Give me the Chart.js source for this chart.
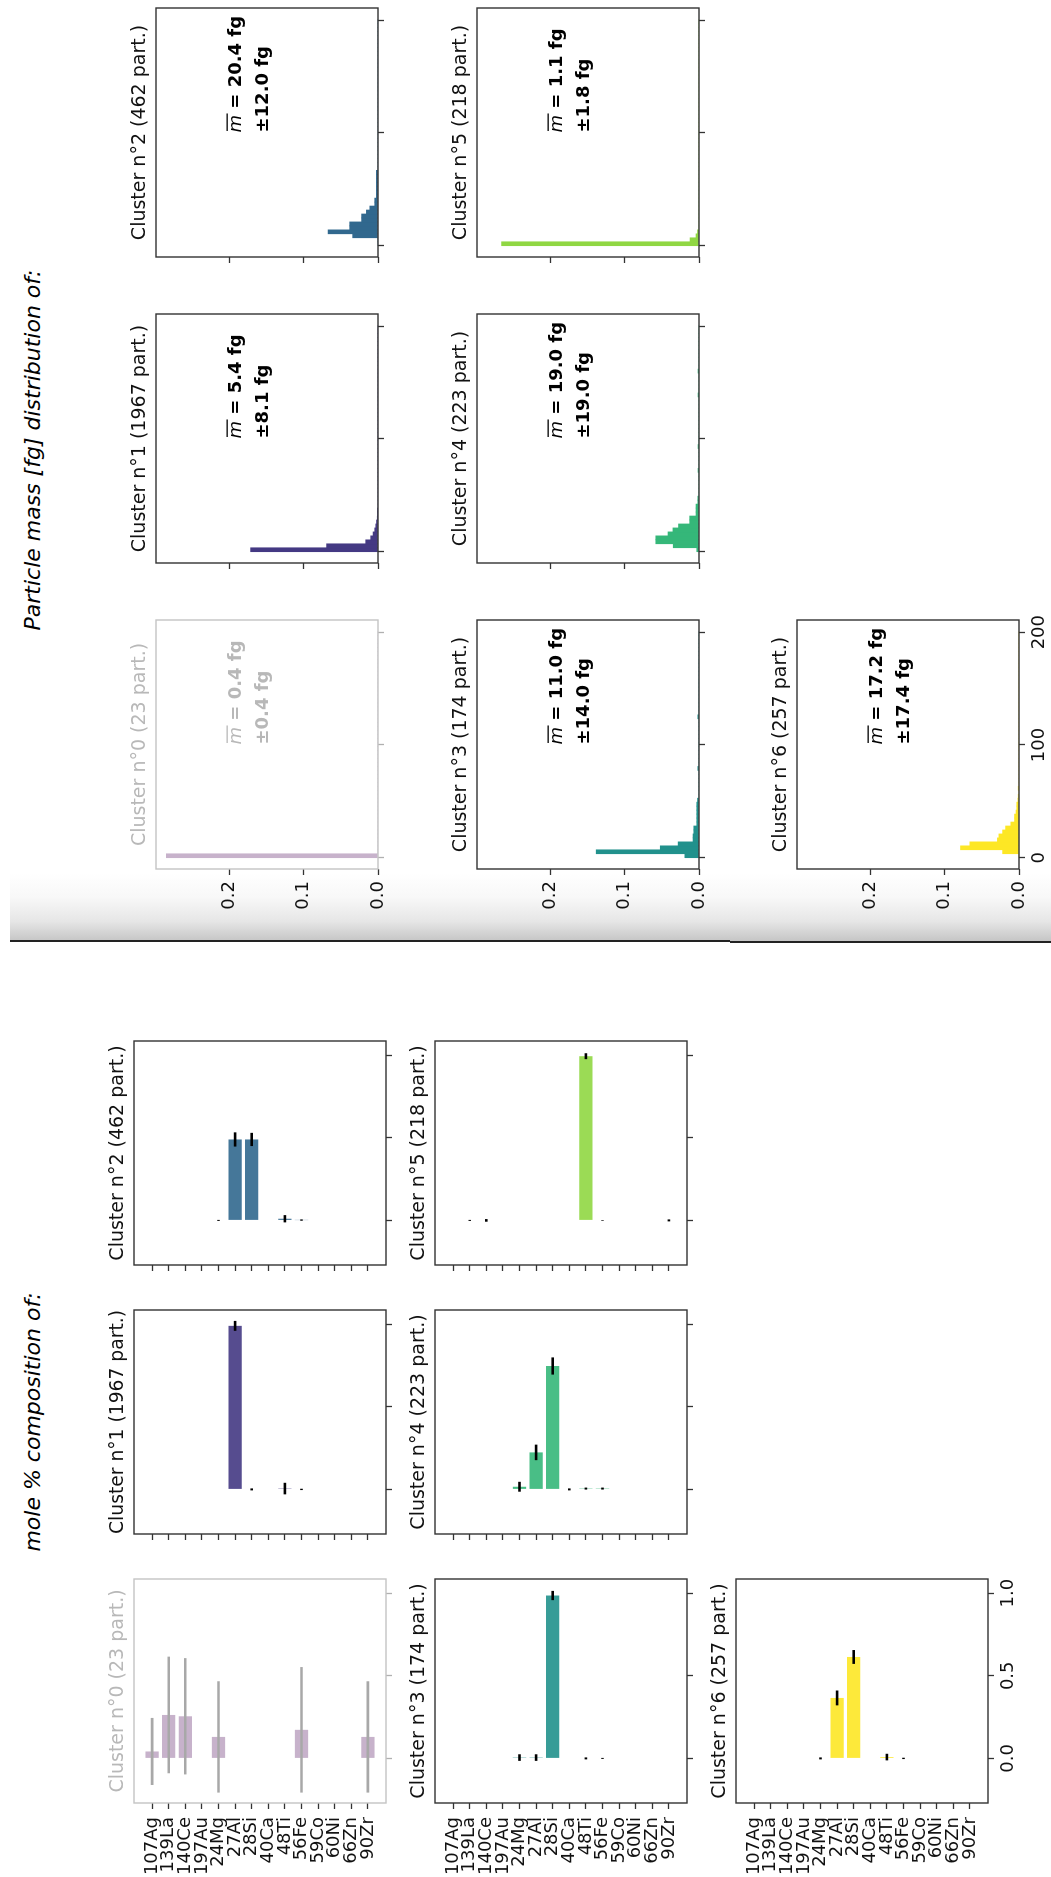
<!DOCTYPE html>
<html>
<head>
<meta charset="utf-8">
<script src="https://cdn.jsdelivr.net/npm/chart.js@4.4.1/dist/chart.umd.min.js"></script>
<style>
html, body { margin: 0; padding: 0; background: #fff; }
body { width: 1051px; height: 1877px; overflow: hidden; position: relative; }
#fig {
    position: absolute; left: 0; top: 0;
    width: 1877px; height: 1051px;
    transform-origin: 0 0;
    transform: translate(0, 1877px) rotate(-90deg);
    font-family: "DejaVu Sans", sans-serif;
}
.suptitle {
    position: absolute; top: 22px;
    font-style: italic; font-size: 22px; line-height: 22px;
    white-space: nowrap; transform: translateX(-50%);
}
#shade { position: absolute; left: 935px; top: 10px; width: 69px; height: 1041px;
    background: linear-gradient(to right, #c4c4c4, #e6e6e6 30%, #f8f8f8 65%, #fff); }
#shadeLine { position: absolute; left: 935px; top: 10px; width: 2px; height: 720px; background: #222; }
#shadeLine2 { position: absolute; left: 933.5px; top: 730px; width: 2px; height: 321px; background: #222; }
</style>
</head>
<body>
<div id="fig">
    <div id="shade"></div>
    <div id="shadeLine"></div>
    <div id="shadeLine2"></div>
    <div class="suptitle" style="left:455px;">mole % composition of:</div>
    <div class="suptitle" style="left:1427px;">Particle mass [fg] distribution of:</div>
</div>

<script>

/* ====================================
   DATA
==================================== */

const elements = ["107Ag", "139La", "140Ce", "197Au", "24Mg", "27Al", "28Si",
                  "40Ca", "48Ti", "56Fe", "59Co", "60Ni", "66Zn", "90Zr"];

const particleCounts = [23, 1967, 462, 174, 223, 218, 257];

const clusterColors = ["#440154", "#443983", "#31688e", "#21918c",
                       "#35b779", "#90d743", "#fde725"];

// mole fraction per element, and its error bar half length
const moleFrac0 = [0.042, 0.263, 0.255, 0, 0.130, 0, 0, 0, 0, 0.173, 0, 0, 0, 0.130];
const moleErr0  = [0.203, 0.353, 0.352, 0, 0.337, 0, 0, 0, 0, 0.380, 0, 0, 0, 0.337];

const moleFrac1 = [0, 0, 0, 0, 0, 0.990, 0, 0, 0.005, 0, 0, 0, 0, 0];
const moleErr1  = [0, 0, 0, 0, 0, 0.030, 0.006, 0, 0.035, 0.004, 0, 0, 0, 0];

const moleFrac2 = [0, 0, 0, 0, 0, 0.490, 0.490, 0, 0.010, 0.002, 0, 0, 0, 0];
const moleErr2  = [0, 0, 0, 0, 0.003, 0.043, 0.040, 0, 0.022, 0.004, 0, 0, 0, 0];

const moleFrac3 = [0, 0, 0, 0, 0.005, 0.005, 0.986, 0, 0, 0, 0, 0, 0, 0];
const moleErr3  = [0, 0, 0, 0, 0.020, 0.020, 0.028, 0, 0.006, 0.003, 0, 0, 0, 0];

const moleFrac4 = [0, 0, 0, 0, 0.016, 0.224, 0.747, 0, 0.005, 0.005, 0, 0, 0, 0];
const moleErr4  = [0, 0, 0, 0, 0.030, 0.047, 0.052, 0.006, 0.006, 0.006, 0, 0, 0, 0];

const moleFrac5 = [0, 0, 0, 0, 0, 0, 0, 0, 0.994, 0, 0, 0, 0, 0];
const moleErr5  = [0, 0.003, 0.008, 0, 0, 0, 0, 0, 0.018, 0.002, 0, 0, 0, 0.006];

const moleFrac6 = [0, 0, 0, 0, 0, 0.366, 0.614, 0, 0.008, 0, 0, 0, 0, 0];
const moleErr6  = [0, 0, 0, 0, 0.006, 0.045, 0.042, 0, 0.020, 0.004, 0, 0, 0, 0];

const moleTicks = [0, 0.5, 1.0];

// particle mass histograms (density, bins of massBinWidth fg starting at 0)
const massBinWidth = 3.52;
const massBinCount = 57;

const massDensity0 = [0.284];
const massDensity1 = [0.171, 0.069, 0.0165, 0.0098, 0.0066, 0.0044, 0.003, 0.002, 0.001,
                      0.0005, 0.0005];
const massDensity2 = [0, 0, 0.034, 0.067, 0.038, 0.038, 0.022, 0.022, 0.0156, 0.011,
                      0.0044, 0.0044, 0.0022, 0.0022, 0.0022, 0.0022, 0.0022, 0.0022, 0.0022];
const massDensity3 = [0.019, 0.138, 0.052, 0.028, 0.008, 0.008, 0.007, 0.007, 0.003, 0.003,
                      0.003, 0.003, 0.003, 0.003, 0.002, 0, 0, 0, 0, 0, 0, 0, 0.0016,
                      0, 0, 0, 0, 0, 0, 0, 0, 0, 0, 0, 0, 0.0016];
const massDensity4 = [0.003, 0.0346, 0.058, 0.058, 0.0416, 0.035, 0.0275, 0.0125, 0.0125,
                      0.004, 0.004, 0.004, 0.0016, 0.0016, 0, 0, 0, 0, 0, 0, 0.0013,
                      0, 0, 0, 0, 0, 0.0013, 0, 0, 0, 0, 0, 0, 0, 0, 0, 0, 0, 0, 0.0013,
                      0, 0, 0, 0, 0, 0.0013];
const massDensity5 = [0.265, 0.012, 0.004, 0.002];
const massDensity6 = [0, 0.022, 0.0785, 0.066, 0.029, 0.027, 0.022, 0.018, 0.011, 0.006,
                      0.006, 0.004, 0.003, 0.003, 0.0015, 0.0011, 0, 0.0011];

const meanMass = [0.4, 5.4, 20.4, 11.0, 19.0, 1.1, 17.2];
const stdMass  = [0.4, 8.1, 12.0, 14.0, 19.0, 1.8, 17.4];

const massTicks = [0, 100, 200];
const densityTicks = [0, 0.1, 0.2];

/* ====================================
   LAYOUT (unrotated figure coords)
==================================== */

const FONT = "DejaVu Sans";

const compCols = [73.8, 343.3, 612.3];
const compRows = [134, 434.5, 735.5];
const compW = 224, compH = 251.5;

const massCols = [1008, 1314.2, 1620.4];
const massRows = [156, 476.7, 797.3];
const massW = 248.5, massH = 222.3;

const PAD_L = 80, PAD_T = 50, PAD_R = 24, PAD_B = 45;
const TITLE_PAD = 5;
const TITLE_H = 19 * 1.2 + TITLE_PAD;

const moleFracs = [moleFrac0, moleFrac1, moleFrac2, moleFrac3, moleFrac4, moleFrac5, moleFrac6];
const moleErrs  = [moleErr0, moleErr1, moleErr2, moleErr3, moleErr4, moleErr5, moleErr6];
const massDensities = [massDensity0, massDensity1, massDensity2, massDensity3,
                       massDensity4, massDensity5, massDensity6];

/* ====================================
   PLUGINS
==================================== */

const framePlugin = {
    id: "frame",
    afterDraw(chart, args, opts) {
        const a = chart.chartArea;
        const ctx = chart.ctx;
        ctx.save();
        ctx.strokeStyle = opts.color || "#333";
        ctx.lineWidth = 1.4;
        ctx.strokeRect(a.left, a.top, a.width, a.height);
        ctx.restore();
    }
};

const errorBarPlugin = {
    id: "errorBars",
    afterDatasetsDraw(chart, args, opts) {
        if (!opts.values) return;
        const xs = chart.scales.x;
        const ys = chart.scales.y;
        const ctx = chart.ctx;
        ctx.save();
        ctx.strokeStyle = opts.color;
        ctx.lineWidth = 2.6;
        opts.values.forEach((v, i) => {
            const e = opts.errors[i];
            if (!e) return;
            const y = ys.getPixelForValue(i);
            ctx.beginPath();
            ctx.moveTo(xs.getPixelForValue(v - e), y);
            ctx.lineTo(xs.getPixelForValue(v + e), y);
            ctx.stroke();
        });
        ctx.restore();
    }
};

const massNotePlugin = {
    id: "massNote",
    afterDraw(chart, args, opts) {
        if (opts.mean === undefined) return;
        const a = chart.chartArea;
        const ctx = chart.ctx;
        const x = a.left + a.width * 0.5;
        const y1 = a.top + 85;
        ctx.save();
        ctx.fillStyle = opts.color;
        ctx.textAlign = "left";
        ctx.textBaseline = "alphabetic";
        ctx.font = `italic 18px "${FONT}"`;
        ctx.fillText("m", x, y1);
        const mw = ctx.measureText("m").width;
        // bar over the m
        ctx.fillRect(x + 1.5, y1 - 14.5, mw, 1.3);
        ctx.font = `bold 18px "${FONT}"`;
        ctx.fillText(" = " + opts.mean.toFixed(1) + " fg", x + mw, y1);
        ctx.fillText("\u00b1" + opts.std.toFixed(1) + " fg", x, a.top + 112);
        ctx.restore();
    }
};

Chart.register(framePlugin, errorBarPlugin, massNotePlugin);

/* ====================================
   HELPERS
==================================== */

function addCanvas(left, top, width, height) {
    const c = document.createElement("canvas");
    c.width = width;
    c.height = height;
    c.style.cssText =
        `position:absolute;left:${left}px;top:${top}px;width:${width}px;height:${height}px;`;
    document.getElementById("fig").appendChild(c);
    return c;
}

function tickGrid(color) {
    return {
        display: true,
        offset: false,
        drawOnChartArea: false,
        drawTicks: true,
        tickLength: 6,
        tickWidth: 1.3,
        tickColor: color,
        color: color
    };
}

function clusterTitle(k, faded) {
    return {
        display: true,
        text: `Cluster n°${k} (${particleCounts[k]} part.)`,
        color: faded ? "#b8b8b8" : "#111",
        font: { family: FONT, size: 19, weight: "normal", lineHeight: 1.2 },
        padding: { top: 0, bottom: TITLE_PAD },
        fullSize: false
    };
}

/* ====================================
   COMPOSITION PANELS
==================================== */

function createCompositionChart(k) {
    const row = Math.floor(k / 3), col = k % 3;
    const faded = k === 0;
    const canvas = addCanvas(compCols[col] - PAD_L, compRows[row] - PAD_T,
                             Math.round(PAD_L + compW + PAD_R), Math.round(PAD_T + compH + PAD_B));
    const color = clusterColors[k];
    const showX = row === 2;
    const showY = col === 0;

    new Chart(canvas, {
        type: "bar",
        data: {
            datasets: [{
                data: elements.map((e, i) => ({ x: moleFracs[k][i], y: i })),
                backgroundColor: faded ? "rgba(68,1,84,0.3)" : color + "e6",
                borderWidth: 0,
                inflateAmount: 0,
                barPercentage: 0.8,
                categoryPercentage: 1
            }]
        },
        options: {
            indexAxis: "y",
            responsive: false,
            animation: false,
            devicePixelRatio: 1,
            layout: { padding: { top: PAD_T - TITLE_H, left: 0, right: PAD_R, bottom: 0 } },
            plugins: {
                legend: { display: false },
                tooltip: { enabled: false },
                title: clusterTitle(k, faded),
                frame: { color: faded ? "#c4c4c4" : "#333" },
                errorBars: {
                    values: moleFracs[k],
                    errors: moleErrs[k],
                    color: faded ? "#a8a8a8" : "#000"
                }
            },
            scales: {
                x: {
                    type: "linear",
                    offset: false,
                    min: -0.27,
                    max: 1.086,
                    afterBuildTicks: s => { s.ticks = moleTicks.map(v => ({ value: v })); },
                    afterFit: s => { s.height = PAD_B; },
                    grid: tickGrid(faded ? "#b0b0b0" : "#333"),
                    border: { display: false },
                    ticks: {
                        display: showX,
                        autoSkip: false,
                        maxRotation: 0,
                        padding: 4,
                        color: "#111",
                        font: { family: FONT, size: 18 },
                        callback: v => v.toFixed(1)
                    }
                },
                y: {
                    type: "linear",
                    offset: false,
                    reverse: true,
                    min: -1.09,
                    max: 14.09,
                    afterBuildTicks: s => { s.ticks = elements.map((e, i) => ({ value: i })); },
                    afterFit: s => { s.width = PAD_L; },
                    grid: tickGrid("#333"),
                    border: { display: false },
                    ticks: {
                        display: showY,
                        autoSkip: false,
                        padding: 8,
                        color: "#111",
                        font: { family: FONT, size: 18, lineHeight: 1 },
                        callback: v => elements[v]
                    }
                }
            }
        }
    });
}

/* ====================================
   MASS HISTOGRAM PANELS
==================================== */

function createMassChart(k) {
    const row = Math.floor(k / 3), col = k % 3;
    const faded = k === 0;
    const canvas = addCanvas(massCols[col] - PAD_L, massRows[row] - PAD_T,
                             Math.round(PAD_L + massW + PAD_R), Math.round(PAD_T + massH + PAD_B));
    const dens = massDensities[k];
    const bins = [];
    for (let i = 0; i < massBinCount; i++) {
        bins.push({ x: (i + 0.5) * massBinWidth, y: dens[i] || 0 });
    }

    new Chart(canvas, {
        type: "bar",
        data: {
            datasets: [{
                data: bins,
                backgroundColor: faded ? "rgba(68,1,84,0.3)" : clusterColors[k],
                borderWidth: 0,
                barPercentage: 1,
                categoryPercentage: 1
            }]
        },
        options: {
            responsive: false,
            animation: false,
            devicePixelRatio: 1,
            layout: { padding: { top: PAD_T - TITLE_H, left: 0, right: PAD_R, bottom: 0 } },
            plugins: {
                legend: { display: false },
                tooltip: { enabled: false },
                title: clusterTitle(k, faded),
                frame: { color: faded ? "#c4c4c4" : "#333" },
                massNote: {
                    mean: meanMass[k],
                    std: stdMass[k],
                    color: faded ? "#b8b8b8" : "#000"
                }
            },
            scales: {
                x: {
                    type: "linear",
                    offset: false,
                    min: -10,
                    max: 210.8,
                    afterBuildTicks: s => { s.ticks = massTicks.map(v => ({ value: v })); },
                    afterFit: s => { s.height = PAD_B; },
                    grid: tickGrid(faded ? "#b0b0b0" : "#333"),
                    border: { display: false },
                    ticks: {
                        display: row === 2,
                        autoSkip: false,
                        maxRotation: 0,
                        padding: 4,
                        color: "#111",
                        font: { family: FONT, size: 18 }
                    }
                },
                y: {
                    type: "linear",
                    min: 0,
                    max: 0.298,
                    afterBuildTicks: s => { s.ticks = densityTicks.map(v => ({ value: v })); },
                    afterFit: s => { s.width = PAD_L; },
                    grid: tickGrid("#333"),
                    border: { display: false },
                    ticks: {
                        display: col === 0,
                        autoSkip: false,
                        padding: 6,
                        color: "#111",
                        font: { family: FONT, size: 18 },
                        callback: v => v.toFixed(1)
                    }
                }
            }
        }
    });
}

for (let k = 0; k < 7; k++) {
    createCompositionChart(k);
    createMassChart(k);
}

</script>
</body>
</html>
